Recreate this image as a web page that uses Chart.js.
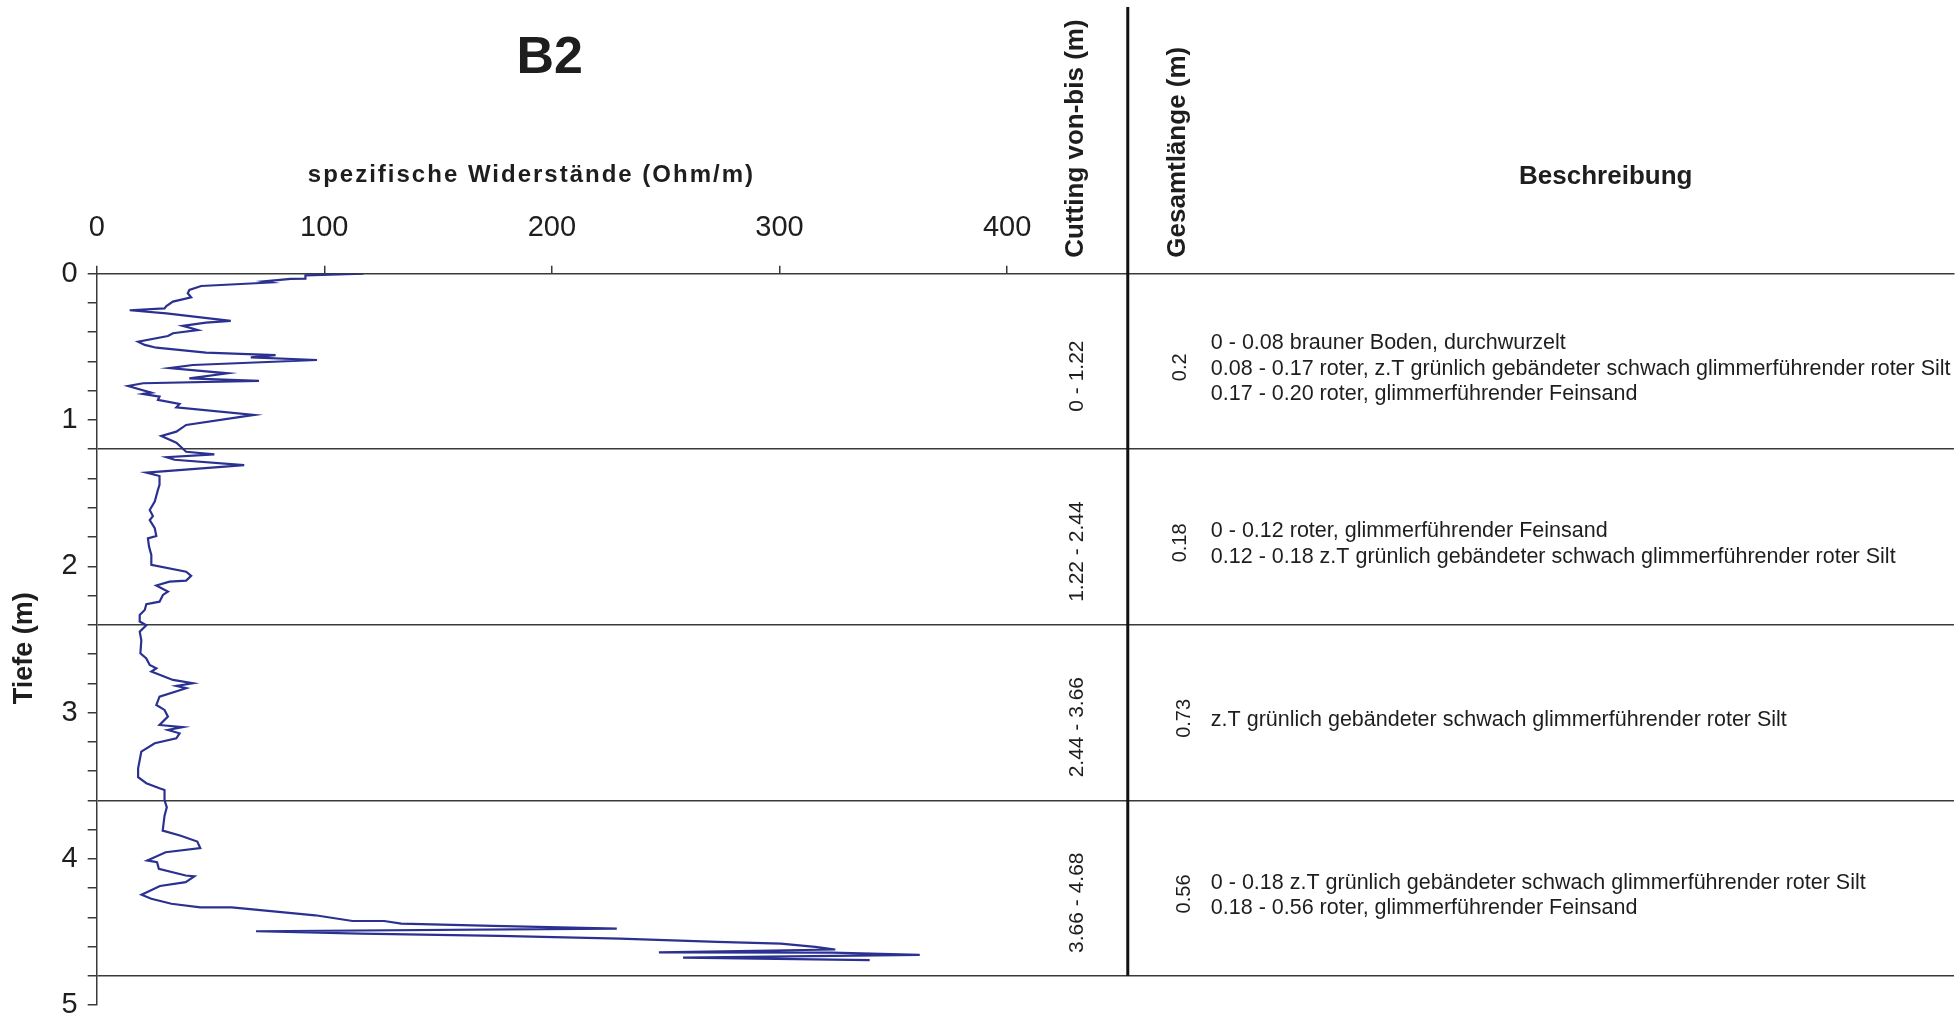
<!DOCTYPE html>
<html>
<head>
<meta charset="utf-8">
<script src="https://cdn.jsdelivr.net/npm/chart.js@4.4.0/dist/chart.umd.min.js"></script>
<style>
  html, body { margin: 0; padding: 0; background: #fff; }
  #wrap { width: 1958px; height: 1018px; }
</style>
</head>
<body>
<div id="wrap"><canvas id="myChart" width="1958" height="1018"></canvas></div>
<script>
var depthM = [
    0.000, 0.011, 0.034, 0.036, 0.052, 0.060, 0.084, 0.111, 0.134, 0.161,
    0.191, 0.221, 0.237, 0.250, 0.271, 0.323, 0.335, 0.357, 0.385, 0.407,
    0.426, 0.465, 0.487, 0.506, 0.540, 0.556, 0.572, 0.590, 0.624, 0.645,
    0.681, 0.715, 0.733, 0.749, 0.768, 0.813, 0.822, 0.840, 0.863, 0.890,
    0.913, 0.966, 0.977, 1.034, 1.080, 1.109, 1.155, 1.217, 1.235, 1.254,
    1.272, 1.308, 1.360, 1.383, 1.444, 1.478, 1.558, 1.615, 1.657, 1.684,
    1.740, 1.793, 1.809, 1.866, 1.923, 1.991, 2.037, 2.066, 2.098, 2.105,
    2.132, 2.173, 2.196, 2.242, 2.260, 2.299, 2.333, 2.378, 2.403, 2.447,
    2.504, 2.595, 2.630, 2.675, 2.698, 2.720, 2.777, 2.800, 2.818, 2.834,
    2.891, 2.948, 2.982, 3.028, 3.085, 3.100, 3.119, 3.142, 3.176, 3.210,
    3.267, 3.324, 3.381, 3.442, 3.483, 3.517, 3.529, 3.598, 3.648, 3.705,
    3.807, 3.841, 3.882, 3.927, 3.955, 4.011, 4.023, 4.068, 4.114, 4.120,
    4.159, 4.186, 4.245, 4.273, 4.307, 4.332, 4.332, 4.386, 4.425, 4.425,
    4.443, 4.459, 4.477, 4.495, 4.511, 4.527, 4.545, 4.568, 4.580, 4.602,
    4.620, 4.639, 4.641, 4.657, 4.675, 4.693
];
var resistivity = [
    117.2, 91.7, 91.7, 85.2, 73.5, 76.4, 45.9, 40.7, 40.0, 41.5,
    33.5, 30.6, 29.8, 14.5, 30.6, 58.9, 48.0, 37.8, 44.4, 33.5,
    31.3, 18.2, 21.1, 26.2, 48.0, 78.6, 67.7, 96.8, 42.2, 32.0,
    57.5, 40.7, 71.3, 20.4, 13.8, 24.0, 20.4, 27.6, 26.9, 36.4,
    35.0, 69.1, 64.0, 39.3, 35.0, 28.4, 35.0, 39.3, 51.7, 30.6,
    34.2, 64.8, 21.8, 27.6, 27.6, 26.9, 25.5, 23.3, 24.7, 23.3,
    25.5, 26.2, 22.5, 23.0, 24.0, 24.0, 39.3, 41.5, 39.3, 32.0,
    26.2, 31.3, 29.1, 27.6, 21.8, 21.1, 18.9, 18.9, 21.8, 18.9,
    19.6, 19.2, 21.8, 23.3, 26.2, 24.0, 33.5, 42.2, 35.0, 39.3,
    27.6, 26.2, 29.8, 31.3, 27.6, 37.8, 31.3, 36.4, 35.0, 25.5,
    19.6, 18.9, 18.2, 18.2, 21.8, 27.6, 29.8, 29.8, 30.8, 29.8,
    29.0, 36.6, 44.2, 45.5, 30.3, 22.2, 26.5, 27.3, 39.1, 42.9,
    39.1, 27.8, 19.7, 24.0, 32.8, 45.5, 59.3, 96.0, 112.4, 126.3,
    133.8, 174.0, 228.5, 70.0, 116.0, 176.8, 229.8, 272.7, 300.5, 315.7,
    324.5, 247.0, 323.2, 361.6, 257.6, 339.6
];
var xTickValues = [0, 100, 200, 300, 400];
var layerBounds = [1.2, 2.4, 3.6, 4.8];
var cuttingLabels = ['0 - 1.22', '1.22 - 2.44', '2.44 - 3.66', '3.66 - 4.68'];
var totalLengths = ['0.2', '0.18', '0.73', '0.56'];
var descriptions = [
    ['0 - 0.08 brauner Boden, durchwurzelt',
     '0.08 - 0.17 roter, z.T grünlich gebändeter schwach glimmerführender roter Silt',
     '0.17 - 0.20 roter, glimmerführender Feinsand'],
    ['0 - 0.12 roter, glimmerführender Feinsand',
     '0.12 - 0.18 z.T grünlich gebändeter schwach glimmerführender roter Silt'],
    ['z.T grünlich gebändeter schwach glimmerführender roter Silt'],
    ['0 - 0.18 z.T grünlich gebändeter schwach glimmerführender roter Silt',
     '0.18 - 0.56 roter, glimmerführender Feinsand']
];
var chartTitle = 'B2';
var xAxisTitle = 'spezifische Widerstände (Ohm/m)';
var yAxisTitle = 'Tiefe (m)';
var columnHeaders = ['Cutting von-bis (m)', 'Gesamtlänge (m)', 'Beschreibung'];

var FONT = "'Liberation Sans', Arial, sans-serif";
var INK = '#1e1e1e';
var RULE = '#3a3a3a';

function isBound(v) {
    return layerBounds.some(function (b) { return Math.abs(b - v) < 1e-6; });
}

var points = depthM.map(function (d, i) { return { x: resistivity[i], y: d }; });

var textPlugin = {
    id: 'boreholeText',
    afterDraw: function (chart) {
        var ctx = chart.ctx, xs = chart.scales.x, ys = chart.scales.y;
        var area = chart.chartArea;
        ctx.save();
        ctx.fillStyle = INK;

        // title and axis titles
        ctx.textAlign = 'center';
        ctx.textBaseline = 'middle';
        ctx.font = 'bold 52px ' + FONT;
        ctx.fillText(chartTitle, xs.getPixelForValue(199), 59);
        ctx.font = 'bold 24px ' + FONT;
        ctx.letterSpacing = '2px';
        ctx.fillText(xAxisTitle, xs.getPixelForValue(191), 175);
        ctx.letterSpacing = '0px';

        ctx.font = 'bold 27px ' + FONT;
        ctx.save();
        ctx.translate(25, ys.getPixelForValue(2.56));
        ctx.rotate(-Math.PI / 2);
        ctx.fillText(yAxisTitle, 0, 0);
        ctx.restore();

        // separator between the two left columns
        var sepX = xs.getPixelForValue(453);
        ctx.strokeStyle = '#111';
        ctx.lineWidth = 3;
        ctx.beginPath();
        ctx.moveTo(sepX, 7);
        ctx.lineTo(sepX, ys.getPixelForValue(layerBounds[layerBounds.length - 1]));
        ctx.stroke();

        // column headers
        ctx.font = 'bold 26px ' + FONT;
        [[columnHeaders[0], 430], [columnHeaders[1], 475]].forEach(function (h) {
            ctx.save();
            ctx.translate(xs.getPixelForValue(h[1]), area.top - 16);
            ctx.rotate(-Math.PI / 2);
            ctx.textAlign = 'left';
            ctx.fillText(h[0], 0, 0);
            ctx.restore();
        });
        ctx.textAlign = 'center';
        ctx.fillText(columnHeaders[2], xs.getPixelForValue(663), 177);

        // per-layer texts
        for (var i = 0; i < cuttingLabels.length; i++) {
            var top = i === 0 ? 0 : layerBounds[i - 1];
            var mid = (top + layerBounds[i]) / 2;

            ctx.font = '21px ' + FONT;
            ctx.save();
            ctx.translate(xs.getPixelForValue(431), ys.getPixelForValue(mid + 0.1));
            ctx.rotate(-Math.PI / 2);
            ctx.textAlign = 'center';
            ctx.fillText(cuttingLabels[i], 0, 0);
            ctx.restore();

            ctx.font = '20px ' + FONT;
            ctx.save();
            ctx.translate(xs.getPixelForValue(i < 2 ? 476 : 478), ys.getPixelForValue(mid + 0.04));
            ctx.rotate(-Math.PI / 2);
            ctx.textAlign = 'center';
            ctx.fillText(totalLengths[i], 0, 0);
            ctx.restore();

            var lines = descriptions[i];
            var cy = ys.getPixelForValue(mid + 0.05);
            ctx.font = '21.5px ' + FONT;
            ctx.textAlign = 'left';
            lines.forEach(function (t, k) {
                ctx.fillText(t, xs.getPixelForValue(489.5), cy + (k - (lines.length - 1) / 2) * 25.5);
            });
        }
        ctx.restore();
    }
};

var ctx = document.getElementById('myChart').getContext('2d');
var chart = new Chart(ctx, {
    type: 'scatter',
    data: {
        datasets: [{
            label: 'Widerstand',
            data: points,
            showLine: true,
            borderColor: '#2b3190',
            backgroundColor: '#2b3190',
            borderWidth: 2.2,
            pointRadius: 0,
            tension: 0
        }]
    },
    options: {
        responsive: false,
        animation: false,
        devicePixelRatio: 1,
        layout: { padding: { left: 0, top: 0, right: 4, bottom: 0 } },
        plugins: {
            legend: { display: false },
            tooltip: { enabled: false }
        },
        scales: {
            x: {
                type: 'linear',
                position: 'top',
                min: 0,
                max: 816,
                afterBuildTicks: function (scale) {
                    scale.ticks = xTickValues.map(function (v) { return { value: v }; });
                },
                afterFit: function (scale) { scale.height = 273.7; },
                grid: { drawOnChartArea: false, tickLength: 8, color: RULE, lineWidth: 1.5 },
                border: { display: true, color: RULE, width: 1.5 },
                ticks: {
                    font: { family: FONT, size: 29 },
                    color: INK,
                    padding: 20,
                    maxRotation: 0
                }
            },
            y: {
                type: 'linear',
                reverse: true,
                min: 0,
                max: 5,
                afterFit: function (scale) { scale.width = 96.7; },
                grid: {
                    color: function (c) { return c.tick && isBound(c.tick.value) ? RULE : 'rgba(0,0,0,0)'; },
                    tickColor: RULE,
                    tickLength: 9,
                    lineWidth: 1.5
                },
                border: { display: true, color: RULE, width: 1.5 },
                ticks: {
                    stepSize: 0.2,
                    autoSkip: false,
                    // small lineHeight keeps the bottom label from shrinking the plot area
                    font: { family: FONT, size: 29, lineHeight: 0.2 },
                    color: INK,
                    padding: 10,
                    callback: function (v) {
                        return Math.abs(v - Math.round(v)) < 1e-6 ? String(Math.round(v)) : '';
                    }
                }
            }
        }
    },
    plugins: [textPlugin]
});
</script>
</body>
</html>
